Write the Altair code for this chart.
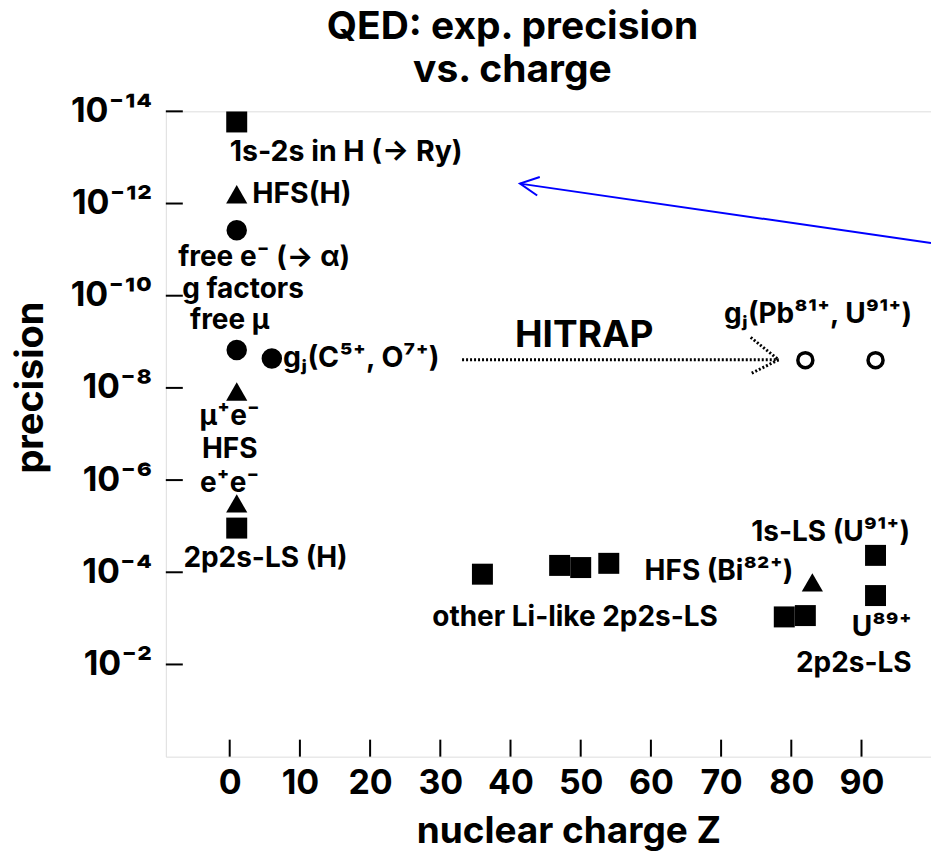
import altair as alt
import pandas as pd

# ---------------- data ----------------
# filled squares: Z, precision
sq_z = [1, 1, 36, 47, 50, 54, 79, 82, 92, 92]
sq_p = [1.7e-14, 1.1e-5, 1.1e-4, 7.1e-5, 7.9e-5, 6.4e-5, 9.3e-4, 8.7e-4, 4.3e-5, 3.2e-4]
# filled triangles
tri_z = [1, 1, 1, 83]
tri_p = [6.3e-13, 1.2e-8, 3.2e-6, 1.66e-4]
# filled circles
cir_z = [1, 1, 6]
cir_p = [3.8e-12, 1.5e-9, 2.3e-9]
# open circles (HITRAP goal)
open_z = [82, 92]
open_p = [2.5e-9, 2.5e-9]

# axis ticks
xtick_vals = [0, 10, 20, 30, 40, 50, 60, 70, 80, 90]
ytick_vals = [1e-14, 1e-12, 1e-10, 1e-8, 1e-6, 1e-4, 1e-2]
ytick_labels = ["10⁻¹⁴", "10⁻¹²", "10⁻¹⁰", "10⁻⁸", "10⁻⁶", "10⁻⁴", "10⁻²"]

# annotations (anchor in data units)
lab_c_text = ["free e⁻ (→ α)", "g factors", "free μ", "μ⁺e⁻", "HFS", "e⁺e⁻",
              "2p2s-LS (H)", "other Li-like 2p2s-LS", "HFS (Bi⁸²⁺)", "1s-LS (U⁹¹⁺)",
              "U⁸⁹⁺", "2p2s-LS", "gⱼ(Pb⁸¹⁺, U⁹¹⁺)"]
lab_c_z = [4.9, 1.9, 0, 0, 0, 0, 5.1, 49.2, 69.7, 85.6, 92.9, 88.9, 83.8]
lab_c_p = [1.5e-11, 7.4e-11, 3.6e-10, 4.2e-8, 2.2e-7, 1.2e-6, 5.1e-5, 9.6e-4, 1.0e-4,
           1.4e-5, 1.6e-3, 1.0e-2, 2.6e-10]
lab_l_text = ["1s-2s in H (→ Ry)", "HFS(H)", "gⱼ(C⁵⁺, O⁷⁺)"]
lab_l_z = [0, 3.2, 7.6]
lab_l_p = [7.8e-14, 6.3e-13, 2.3e-9]
hitrap_text = ["HITRAP"]
hitrap_z = [50.5]
hitrap_p = [7.4e-10]

# HITRAP dotted arrow and blue pointer arrow
hit_line_z = [33.1, 78.2]
hit_line_p = [2.45e-9, 2.45e-9]
blue_z = [41.35, 99.9]
blue_p = [3.7e-13, 7.2e-12]

# ---------------- chart ----------------
FONT = "Inter, Liberation Sans, Arial, sans-serif"
W, H = 766, 646

xs = alt.Scale(domain=[-9.1, 99.9], nice=False, zero=False)
ys = alt.Scale(type="log", domain=[1e-14, 1], reverse=True, nice=False)

expr = "''"
for v, lab in reversed(list(zip(ytick_vals, ytick_labels))):
    expr = f"datum.value < {v*3:g} ? '{lab}' : " + expr

xaxis = alt.Axis(values=xtick_vals, format="d", ticks=False, domain=False, grid=False,
                 labelFont=FONT, labelFontSize=34, labelFontWeight="bold", labelColor="black",
                 labelPadding=10, labelFlush=False, labelOverlap=False,
                 title="nuclear charge Z", titleFont=FONT, titleFontSize=37,
                 titleFontWeight="bold", titleColor="black", titlePadding=13, titleX=403)
yaxis = alt.Axis(values=ytick_vals, labelExpr=expr, ticks=False, domain=False, grid=False,
                 labelFont=FONT, labelFontSize=34, labelFontWeight="bold", labelColor="black",
                 labelPadding=14, labelFlush=False, labelOverlap=False,
                 title="precision", titleFont=FONT, titleFontSize=38, titleFontWeight="bold",
                 titleColor="black", titleX=-134, titleY=276, titleAngle=270,
                 titleAlign="center", titleBaseline="middle")


def X(f):
    return alt.X(f, type="quantitative", scale=xs, axis=xaxis)


def Y(f):
    return alt.Y(f, type="quantitative", scale=ys, axis=yaxis)


sq = pd.DataFrame({"z": sq_z, "p": sq_p})
tri = pd.DataFrame({"z": tri_z, "p": tri_p})
cir = pd.DataFrame({"z": cir_z, "p": cir_p})
opc = pd.DataFrame({"z": open_z, "p": open_p})

l_sq = alt.Chart(sq).mark_point(shape="square", filled=True, size=441, color="black", opacity=1).encode(x=X("z"), y=Y("p"))
l_tri = alt.Chart(tri).mark_point(shape="triangle-up", filled=True, size=450, color="black", opacity=1).encode(x=X("z"), y=Y("p"))
l_cir = alt.Chart(cir).mark_point(shape="circle", filled=True, size=420, color="black", opacity=1).encode(x=X("z"), y=Y("p"))
l_open = alt.Chart(opc).mark_point(shape="circle", filled=False, size=225, color="black",
                                   strokeWidth=3.5, opacity=1).encode(x=X("z"), y=Y("p"))

ytk = pd.DataFrame({"v": ytick_vals})
xtk = pd.DataFrame({"z": xtick_vals})
l_yt = alt.Chart(ytk).mark_rule(color="black", strokeWidth=2).encode(
    y=Y("v"), x=alt.value(0), x2=alt.value(17))
l_xt = alt.Chart(xtk).mark_rule(color="black", strokeWidth=2).encode(
    x=X("z"), y=alt.value(H), y2=alt.value(H - 17))

hl = pd.DataFrame({"z": hit_line_z, "p": hit_line_p})
l_hline = alt.Chart(hl).mark_line(color="black", strokeWidth=3, strokeDash=[2, 2]).encode(x=X("z"), y=Y("p"))
l_hhead = alt.Chart(hl.iloc[[1]]).mark_point(shape="M-1,-0.8L0,0L-1,0.5", filled=False, size=3136,
                                              color="black", strokeWidth=3, strokeDash=[2, 2],
                                              opacity=1).encode(x=X("z"), y=Y("p"))

bl = pd.DataFrame({"z": blue_z, "p": blue_p})
l_blue = alt.Chart(bl).mark_line(color="#0000ff", strokeWidth=2).encode(x=X("z"), y=Y("p"))
l_bhead = alt.Chart(bl.iloc[[0]]).mark_point(shape="M1,-0.5L0,0L1,0.5", filled=False, size=1400,
                                              color="#0000ff", strokeWidth=2, angle=8,
                                              opacity=1).encode(x=X("z"), y=Y("p"))

lc = pd.DataFrame({"t": lab_c_text, "z": lab_c_z, "p": lab_c_p})
ll = pd.DataFrame({"t": lab_l_text, "z": lab_l_z, "p": lab_l_p})
lh = pd.DataFrame({"t": hitrap_text, "z": hitrap_z, "p": hitrap_p})
l_tc = alt.Chart(lc).mark_text(font=FONT, fontSize=28, fontWeight="bold", color="black",
                               align="center", baseline="middle").encode(x=X("z"), y=Y("p"), text="t:N")
l_tl = alt.Chart(ll).mark_text(font=FONT, fontSize=28.5, fontWeight="bold", color="black",
                               align="left", baseline="middle").encode(x=X("z"), y=Y("p"), text="t:N")
l_th = alt.Chart(lh).mark_text(font=FONT, fontSize=37, fontWeight="bold", color="black",
                               align="center", baseline="middle").encode(x=X("z"), y=Y("p"), text="t:N")

chart = alt.layer(
    l_yt, l_xt, l_hline, l_hhead, l_blue, l_bhead, l_sq, l_tri, l_cir, l_open, l_tc, l_tl, l_th
).properties(
    width=W, height=H,
    title=alt.TitleParams(text=["QED: exp. precision", "vs. charge"], font=FONT, fontSize=39,
                          fontWeight="bold", color="black", anchor="middle", dx=-36,
                          offset=4, lineHeight=43),
    padding={"left": 166, "top": 111, "right": 0, "bottom": 96},
    autosize="none",
).configure_view(stroke="black", strokeWidth=2).configure(background="white")

chart.save("out.html", embed_options={"renderer": "svg", "actions": False})
